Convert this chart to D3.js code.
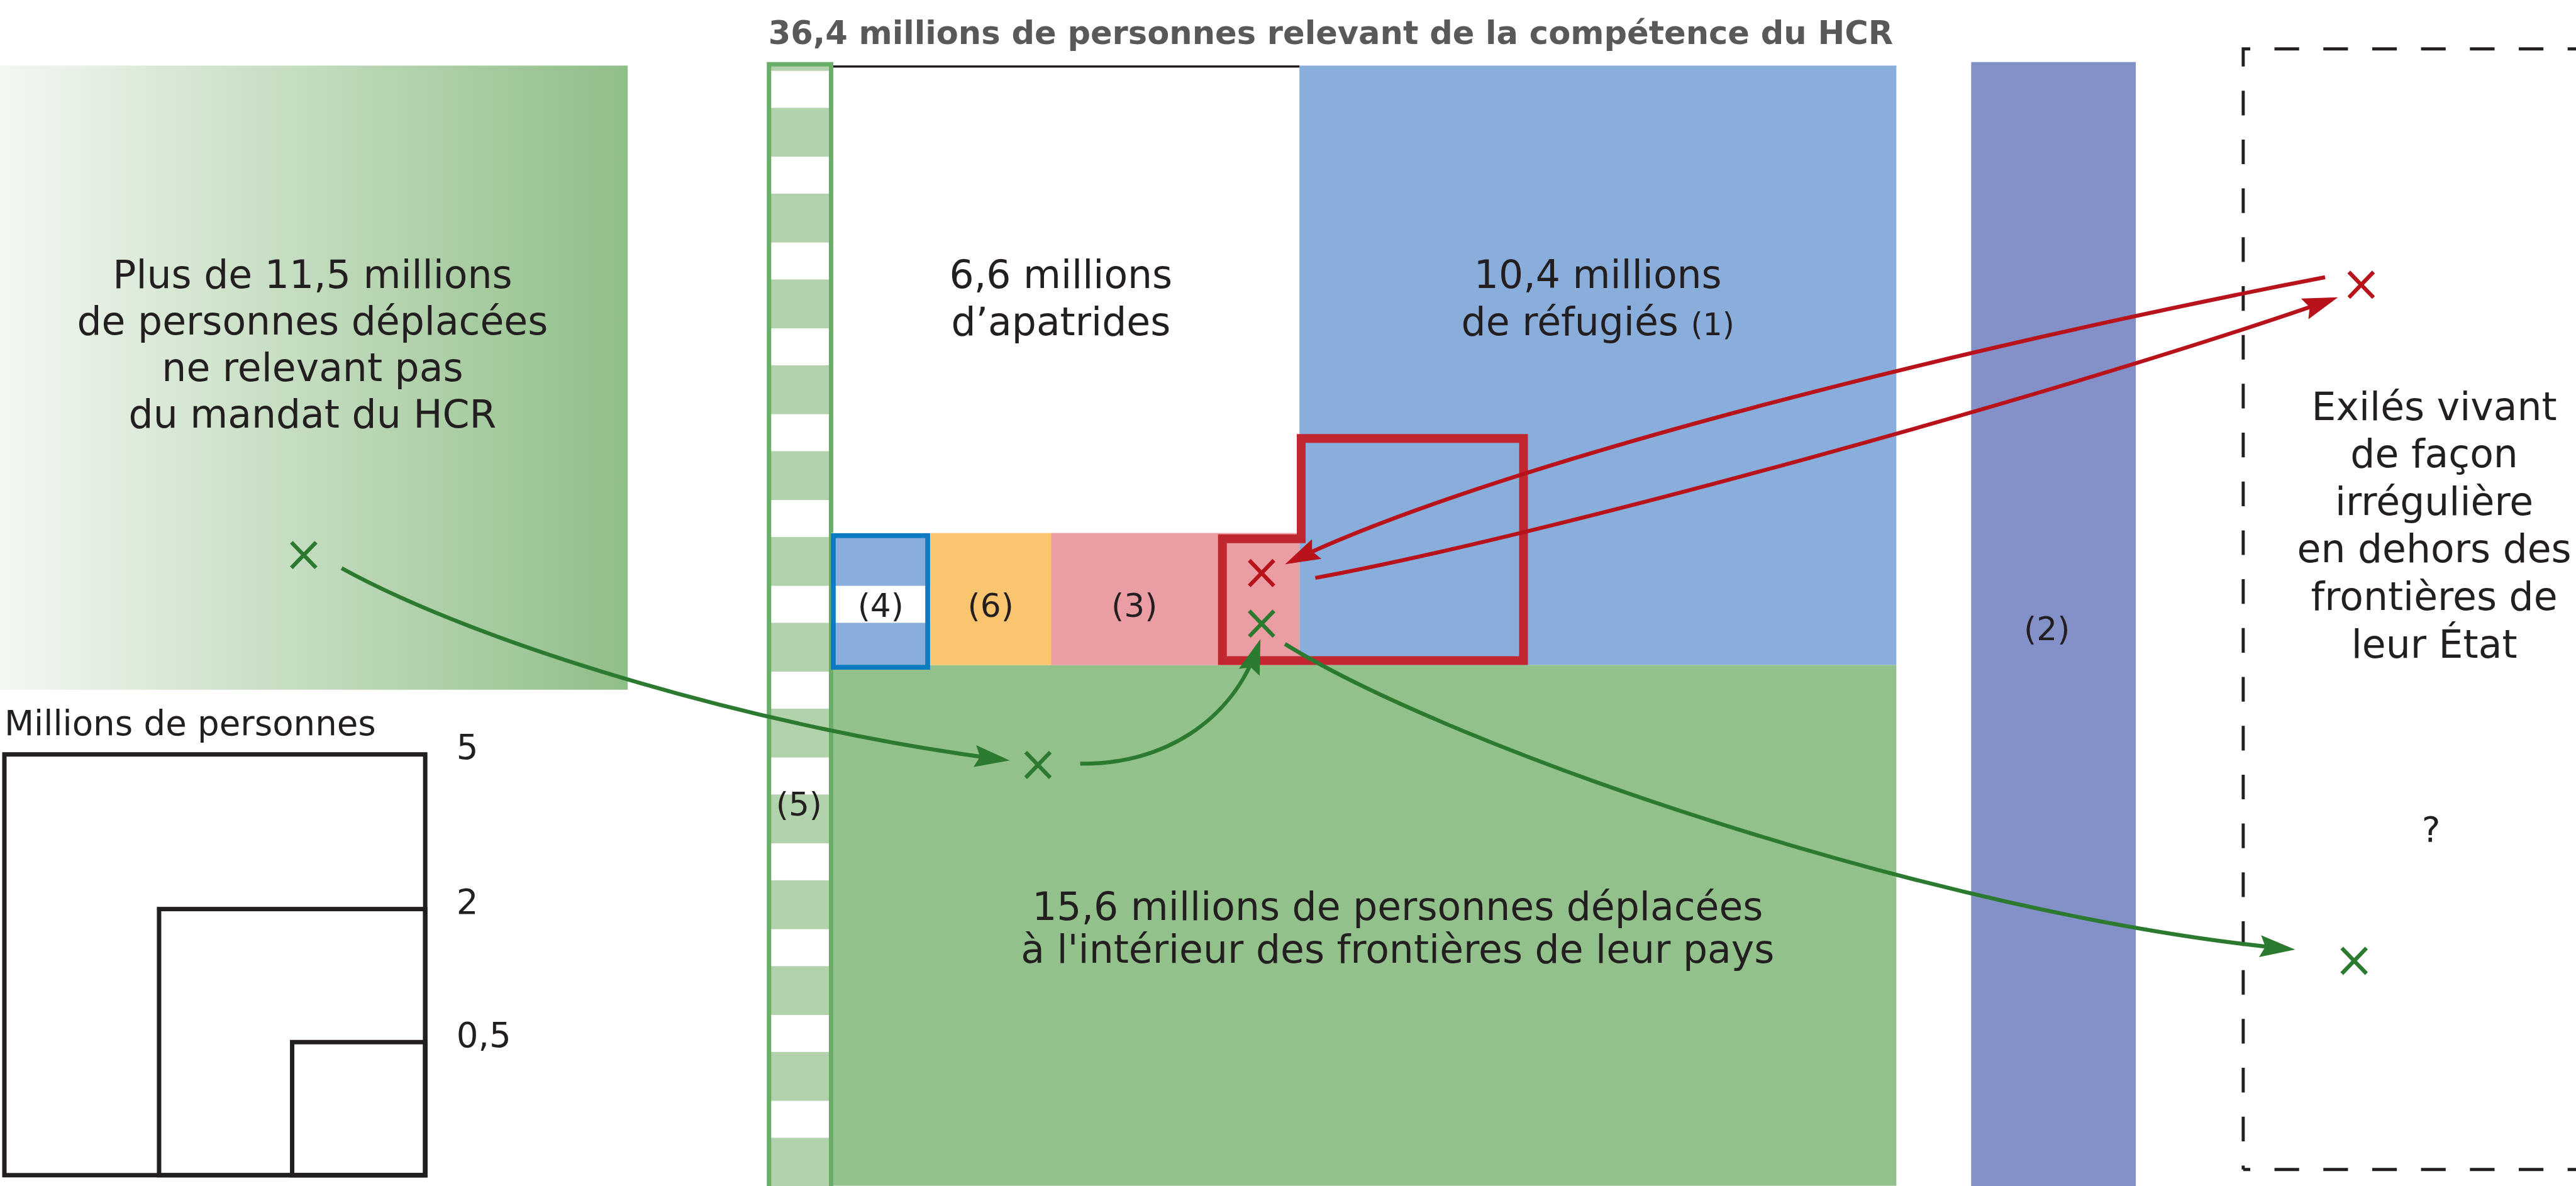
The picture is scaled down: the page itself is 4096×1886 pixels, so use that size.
<!DOCTYPE html>
<html>
<head>
<meta charset="utf-8">
<script src="https://cdn.jsdelivr.net/npm/d3@7"></script>
<style>
  body { margin: 0; background: #fff; }
  text { font-family: "DejaVu Sans", Verdana, sans-serif; fill: #231f20; }
</style>
</head>
<body>
<svg id="chart"></svg>
<script>
// values, in millions of people
var totalValue = 36.4;
var outsideValue = 11.5;
var mainNames = ["apatrides", "refugies", "deplaces"];
var mainValues = [6.6, 10.4, 15.6];
var smallNames = ["(4)", "(6)", "(3)"];
var smallValues = [0.37, 0.45, 0.93];
var legendValues = [5, 2, 0.5];
var legendLabels = ["5", "2", "0,5"];

var fr = d3.formatLocale({ decimal: ",", thousands: " ", grouping: [3], currency: ["", " €"] });
var fmt = fr.format(",.1f");

var W = 4096, H = 1886;
var k = W / 5852; // everything below is laid out in reference pixels

var svg = d3.select("#chart").attr("width", W).attr("height", H);
var defs = svg.append("defs");
var g = svg.append("g").attr("transform", "scale(" + k + ")");

// area scale : side of a square for a value (legend 5 M = 956 px)
var side = d3.scaleSqrt().domain([0, 5]).range([0, 956]);
var unitArea = side(1) * side(1);

// colours
var blue = "#8aaedb", green = "#93c18b", purple = "#8391c8", orange = "#fbc56f",
    pink = "#eb9da4", redBox = "#c1272f", red = "#b8121b", dgreen = "#2b7a30",
    colGreen = "#6aad68", stripeGreen = "#b1d2ab";

// left gradient block (not HCR mandate)
var grad = defs.append("linearGradient").attr("id", "lg").attr("x1", 0).attr("x2", 1);
grad.append("stop").attr("offset", 0).attr("stop-color", "#f3f8f2");
grad.append("stop").attr("offset", 1).attr("stop-color", "#90be88");
g.append("rect").attr("x", 0).attr("y", 149).attr("width", 1426).attr("height", 1418).attr("fill", "url(#lg)");

// layout of main blocks
var top0 = 149, colL = 1747, colR = 1888, mainL = 1892, blueL = 2952, mainR = 4308, stripTop = 1211, stripBot = 1511;
var mainRects = {
  apatrides: { x: mainL, y: top0, w: blueL - mainL, h: stripTop - top0, fill: "#fff" },
  refugies: { x: blueL, y: top0, w: mainR - blueL, h: stripBot - top0, fill: blue },
  deplaces: { x: mainL, y: stripBot, w: mainR - mainL, h: 2694 - stripBot, fill: green }
};
g.selectAll("rect.main").data(mainNames).enter().append("rect").attr("class", "main")
  .attr("x", d => mainRects[d].x).attr("y", d => mainRects[d].y)
  .attr("width", d => mainRects[d].w).attr("height", d => mainRects[d].h)
  .attr("fill", d => mainRects[d].fill);

// black top line of stateless block
g.append("line").attr("x1", colR).attr("x2", blueL).attr("y1", 151).attr("y2", 151)
  .attr("stroke", "#231f20").attr("stroke-width", 5);

// striped column (5)
var stripes = d3.range(0, 14).map(i => 161 + i * 195);
g.append("rect").attr("x", colL).attr("y", 146).attr("width", colR - colL).attr("height", 2600)
  .attr("fill", stripeGreen);
g.selectAll("rect.stripe").data(stripes).enter().append("rect").attr("class", "stripe")
  .attr("x", colL).attr("y", d => d).attr("width", colR - colL).attr("height", 84).attr("fill", "#fff");
g.append("rect").attr("x", colL).attr("y", 146).attr("width", colR - colL).attr("height", 2600)
  .attr("fill", "none").attr("stroke", colGreen).attr("stroke-width", 10);

// small strip (4) (6) (3), widths from values
var stripH = stripBot - stripTop;
var xs = [colR];
smallValues.forEach(v => xs.push(xs[xs.length - 1] + v * unitArea / stripH));
var smallFill = [blue, orange, pink];
g.selectAll("rect.small").data(smallValues).enter().append("rect").attr("class", "small")
  .attr("x", (d, i) => xs[i]).attr("y", stripTop)
  .attr("width", (d, i) => (i == 2 ? blueL : xs[i + 1]) - xs[i]).attr("height", stripH)
  .attr("fill", (d, i) => smallFill[i]);

// stripes continue through box (4)
defs.append("clipPath").attr("id", "c4").append("rect")
  .attr("x", xs[0]).attr("y", stripTop).attr("width", xs[1] - xs[0]).attr("height", stripH);
g.append("g").attr("clip-path", "url(#c4)").selectAll("rect").data(stripes).enter().append("rect")
  .attr("x", xs[0]).attr("y", d => d).attr("width", xs[1] - xs[0]).attr("height", 84).attr("fill", "#fff");
g.append("rect").attr("x", xs[0] + 5).attr("y", stripTop + 6).attr("width", xs[1] - xs[0] - 11).attr("height", stripH - 1)
  .attr("fill", "none").attr("stroke", "#0d7bc2").attr("stroke-width", 11);

// purple column (2)
g.append("rect").attr("x", 4478).attr("y", 141).attr("width", 374).attr("height", 2600).attr("fill", purple);

// red highlighted outline
var rp = d3.path();
rp.moveTo(2777, 1501); rp.lineTo(2777, 1224); rp.lineTo(2956, 1224); rp.lineTo(2956, 996);
rp.lineTo(3461, 996); rp.lineTo(3461, 1501); rp.closePath();
g.append("path").attr("d", rp.toString()).attr("fill", "none").attr("stroke", redBox).attr("stroke-width", 20);

// dashed box (irregular exiles)
var dp = d3.path();
dp.moveTo(5096, 2657); dp.lineTo(5096, 111); dp.lineTo(5900, 111);
g.append("path").attr("d", dp.toString()).attr("fill", "none").attr("stroke", "#231f20")
  .attr("stroke-width", 7).attr("stroke-dasharray", "56 55").attr("stroke-dashoffset", 47);
g.append("line").attr("x1", 5096).attr("x2", 5900).attr("y1", 2657).attr("y2", 2657)
  .attr("stroke", "#231f20").attr("stroke-width", 7).attr("stroke-dasharray", "56 55").attr("stroke-dashoffset", 40);

// legend
g.append("text").attr("x", 10).attr("y", 1670).attr("font-size", 78).text("Millions de personnes");
g.selectAll("rect.leg").data(legendValues).enter().append("rect").attr("class", "leg")
  .attr("x", d => 966 - side(d)).attr("y", d => 2670 - side(d))
  .attr("width", d => side(d)).attr("height", d => side(d))
  .attr("fill", "none").attr("stroke", "#231f20").attr("stroke-width", 10);
g.selectAll("text.leg").data(legendValues).enter().append("text").attr("class", "leg")
  .attr("x", 1037).attr("y", d => 2670 - side(d) + 11).attr("font-size", 78)
  .text((d, i) => legendLabels[i]);

// markers
function marker(id, color) {
  defs.append("marker").attr("id", id).attr("viewBox", "0 0 80 50").attr("refX", 66).attr("refY", 25)
    .attr("markerWidth", 80).attr("markerHeight", 50).attr("markerUnits", "userSpaceOnUse").attr("orient", "auto")
    .append("path").attr("d", "M0,0 L80,25 L0,50 L12,25 Z").attr("fill", color);
}
marker("ag", dgreen);
marker("ar", red);

var arrows = [
  { c: dgreen, m: "ag", p: [[776, 1291], [1100, 1470], [1750, 1660], [2280, 1726]] },
  { c: dgreen, m: "ag", p: [[2454, 1735], [2640, 1738], [2800, 1640], [2859, 1465]] },
  { c: dgreen, m: "ag", p: [[2919, 1463], [3300, 1700], [4400, 2080], [5200, 2156]] },
  { c: red, m: "ar", p: [[5282, 630], [4500, 780], [3400, 1050], [2932, 1276]] },
  { c: red, m: "ar", p: [[2988, 1313], [3500, 1220], [4700, 890], [5298, 680]] }
];
arrows.forEach(function (a) {
  var p = d3.path();
  p.moveTo(a.p[0][0], a.p[0][1]);
  p.bezierCurveTo(a.p[1][0], a.p[1][1], a.p[2][0], a.p[2][1], a.p[3][0], a.p[3][1]);
  g.append("path").attr("d", p.toString()).attr("fill", "none").attr("stroke", a.c)
    .attr("stroke-width", 9).attr("marker-end", "url(#" + a.m + ")");
});

// crosses
var crosses = [
  { x: 690, y: 1261, c: dgreen }, { x: 2358, y: 1738, c: dgreen }, { x: 2866, y: 1417, c: dgreen },
  { x: 5348, y: 2183, c: dgreen }, { x: 2866, y: 1302, c: red }, { x: 5364, y: 647, c: red }
];
g.selectAll("path.x").data(crosses).enter().append("path").attr("class", "x")
  .attr("transform", d => "translate(" + d.x + "," + d.y + ")")
  .attr("d", "M-28,-29L28,29M-28,29L28,-29").attr("stroke", d => d.c).attr("stroke-width", 9).attr("fill", "none");

// texts
function lines(cx, y0, dy, arr, size) {
  var t = g.append("text").attr("text-anchor", "middle").attr("font-size", size || 88);
  arr.forEach(function (s, i) {
    t.append("tspan").attr("x", cx).attr("y", y0 + i * dy).text(s);
  });
  return t;
}
g.append("text").attr("x", 3023).attr("y", 100).attr("text-anchor", "middle").attr("font-size", 73)
  .attr("font-weight", "bold").style("fill", "#58595b")
  .text(fmt(totalValue) + " millions de personnes relevant de la compétence du HCR");

lines(710, 654, 106, ["Plus de " + fmt(outsideValue) + " millions", "de personnes déplacées", "ne relevant pas", "du mandat du HCR"]);
lines(2410, 655, 107, [fmt(mainValues[0]) + " millions", "d\u2019apatrides"]);
var rt = lines(3630, 655, 107, [fmt(mainValues[1]) + " millions"]);
rt.append("tspan").attr("x", 3630).attr("y", 762).text("de réfugiés ");
rt.append("tspan").attr("font-size", 70).text("(1)");
lines(3175, 2090, 98, [fmt(mainValues[2]) + " millions de personnes déplacées", "à l'intérieur des frontières de leur pays"]);
lines(5530, 954, 108, ["Exilés vivant", "de façon", "irrégulière", "en dehors des", "frontières de", "leur État"]);
lines(5523, 1911, 0, ["?"], 80);

g.selectAll("text.small").data(smallNames).enter().append("text").attr("class", "small")
  .attr("x", (d, i) => i == 2 ? 2577 : (xs[i] + xs[i + 1]) / 2).attr("y", 1401)
  .attr("text-anchor", "middle").attr("font-size", 74).text(d => d);
g.append("text").attr("x", 1815).attr("y", 1853).attr("text-anchor", "middle").attr("font-size", 74).text("(5)");
g.append("text").attr("x", 4650).attr("y", 1455).attr("text-anchor", "middle").attr("font-size", 74).text("(2)");
</script>
</body>
</html>
